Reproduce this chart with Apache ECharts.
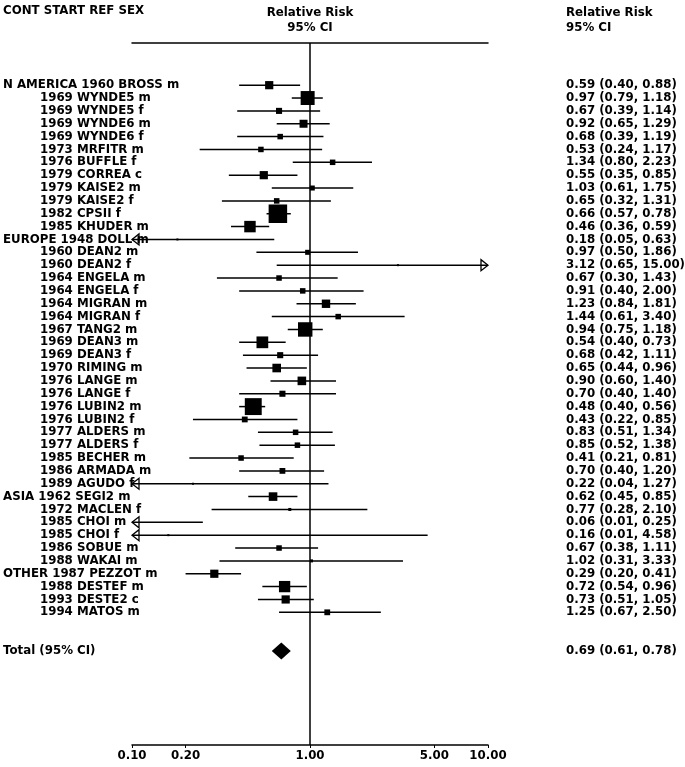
<!DOCTYPE html>
<html><head><meta charset="utf-8">
<script src="https://cdn.jsdelivr.net/npm/echarts@6/dist/echarts.min.js"></script>
<style>html,body{margin:0;padding:0;background:#fff}#c{width:685px;height:767px}</style>
</head><body><div id="c"></div>
<script>
// ---------------- data ----------------
const continents = ['N AMERICA','','','','','','','','','','','',
  'EUROPE','','','','','','','','','','','','','','','','','','','',
  'ASIA','','','','','',
  'OTHER','','',''];
const startYears = [1960,1969,1969,1969,1969,1973,1976,1979,1979,1979,1982,1985,
  1948,1960,1960,1964,1964,1964,1964,1967,1969,1969,1970,1976,1976,1976,1976,1977,1977,1985,1986,1989,
  1962,1972,1985,1985,1986,1988,
  1987,1988,1993,1994];
const refs = ['BROSS','WYNDE5','WYNDE5','WYNDE6','WYNDE6','MRFITR','BUFFLE','CORREA','KAISE2','KAISE2','CPSII','KHUDER',
  'DOLL','DEAN2','DEAN2','ENGELA','ENGELA','MIGRAN','MIGRAN','TANG2','DEAN3','DEAN3','RIMING','LANGE','LANGE','LUBIN2','LUBIN2','ALDERS','ALDERS','BECHER','ARMADA','AGUDO',
  'SEGI2','MACLEN','CHOI','CHOI','SOBUE','WAKAI',
  'PEZZOT','DESTEF','DESTE2','MATOS'];
const sexes = ['m','m','f','m','f','m','f','c','m','f','f','m',
  'm','m','f','m','f','m','f','m','m','f','m','m','f','m','f','m','f','m','m','f',
  'm','f','m','f','m','m',
  'm','m','c','m'];
const rr = [0.59,0.97,0.67,0.92,0.68,0.53,1.34,0.55,1.03,0.65,0.66,0.46,
  0.18,0.97,3.12,0.67,0.91,1.23,1.44,0.94,0.54,0.68,0.65,0.90,0.70,0.48,0.43,0.83,0.85,0.41,0.70,0.22,
  0.62,0.77,0.06,0.16,0.67,1.02,
  0.29,0.72,0.73,1.25];
const ciLow = [0.40,0.79,0.39,0.65,0.39,0.24,0.80,0.35,0.61,0.32,0.57,0.36,
  0.05,0.50,0.65,0.30,0.40,0.84,0.61,0.75,0.40,0.42,0.44,0.60,0.40,0.40,0.22,0.51,0.52,0.21,0.40,0.04,
  0.45,0.28,0.01,0.01,0.38,0.31,
  0.20,0.54,0.51,0.67];
const ciHigh = [0.88,1.18,1.14,1.29,1.19,1.17,2.23,0.85,1.75,1.31,0.78,0.59,
  0.63,1.86,15.00,1.43,2.00,1.81,3.40,1.18,0.73,1.11,0.96,1.40,1.40,0.56,0.85,1.34,1.38,0.81,1.20,1.27,
  0.85,2.10,0.25,4.58,1.11,3.33,
  0.41,0.96,1.05,2.50];
// relative study weights (%), shown as square area
const weights = [2.0,5.8,1.1,1.9,0.9,0.9,0.9,2.0,0.75,0.9,10.2,3.9,
  0.12,0.75,0.12,0.9,0.9,2.1,0.9,6.2,4.1,1.1,2.2,2.2,1.1,8.5,1.0,0.9,0.9,0.9,1.0,0.12,
  2.2,0.27,0.1,0.12,0.9,0.27,
  2.0,3.8,2.0,1.0];
const totalLabel = 'Total (95% CI)';
const totalRR = 0.69, totalLow = 0.61, totalHigh = 0.78;
const xTickValues = [0.1, 0.2, 1, 5, 10];

// ---------------- layout / style ----------------
const FONT = 'DejaVu Sans';
const FS = 11.8;
const XMIN = 0.1, XMAX = 10;
const TOTAL_ROW = rr.length + 2;
const rowIdx = rr.map((_, i) => i);
const labelRows = rowIdx.concat([TOTAL_ROW]);
const f2 = v => v.toFixed(2);

const leftText = i => {
  if (i === TOTAL_ROW) return '{g|' + totalLabel + '}';
  const s = startYears[i] + ' ' + refs[i] + ' ' + sexes[i];
  return continents[i] ? '{g|' + continents[i] + ' ' + s + '}' : '{s|' + s + '}';
};
const rightText = i => {
  if (i === TOTAL_ROW) return f2(totalRR) + ' (' + f2(totalLow) + ', ' + f2(totalHigh) + ')';
  return f2(rr[i]) + ' (' + f2(ciLow[i]) + ', ' + f2(ciHigh[i]) + ')';
};
const txt = {fontFamily: FONT, fontSize: FS, fontWeight: 'bold', color: '#000'};

const Y_MIN = -3.28, Y_MAX = 51.32;

const chart = echarts.init(document.getElementById('c'), null, {renderer: 'canvas'});
chart.setOption({
  animation: false,
  backgroundColor: '#fff',
  title: [
    {text: 'CONT START REF SEX', left: 3, top: 5, padding: 0, textStyle: Object.assign({}, txt)},
    {text: 'Relative Risk\n95% CI', left: 310, top: 5, padding: 0, textAlign: 'center',
     textStyle: Object.assign({lineHeight: 15}, txt)},
    {text: 'Relative Risk\n95% CI', left: 566, top: 5, padding: 0, textAlign: 'left',
     textStyle: Object.assign({lineHeight: 15}, txt)}
  ],
  grid: {left: 132, right: 197, top: 43, bottom: 22, containLabel: false, outerBoundsMode: 'none'},
  xAxis: [
    {type: 'log', logBase: 10, min: XMIN, max: XMAX, position: 'bottom',
     axisLine: {show: true, onZero: false, lineStyle: {color: '#000', width: 1.5}},
     axisTick: {show: true, length: 3, lineStyle: {color: '#000', width: 1}, customValues: xTickValues},
     axisLabel: Object.assign({margin: 5, customValues: xTickValues, formatter: v => f2(v)}, txt),
     splitLine: {show: false}, minorTick: {show: false}},
    {type: 'log', logBase: 10, min: XMIN, max: XMAX, position: 'top',
     axisLine: {show: true, onZero: false, lineStyle: {color: '#000', width: 1.5}},
     axisTick: {show: false}, axisLabel: {show: false}, splitLine: {show: false}}
  ],
  yAxis: [
    {type: 'value', inverse: true, min: Y_MIN, max: Y_MAX, position: 'left',
     axisLine: {show: false, onZero: false}, axisTick: {show: false}, splitLine: {show: false},
     axisLabel: {show: true, margin: 129, align: 'left', customValues: labelRows,
       formatter: v => leftText(Math.round(v)),
       rich: {g: Object.assign({}, txt), s: Object.assign({padding: [0, 0, 0, 37]}, txt)}}},
    {type: 'value', inverse: true, min: Y_MIN, max: Y_MAX, position: 'right',
     axisLine: {show: false, onZero: false}, axisTick: {show: false}, splitLine: {show: false},
     axisLabel: Object.assign({show: true, margin: 78, align: 'left', customValues: labelRows,
       formatter: v => rightText(Math.round(v))}, txt)}
  ],
  series: [
    {
      type: 'custom', name: 'ci', xAxisIndex: 0, yAxisIndex: 0,
      data: rowIdx.map(i => [ciLow[i], ciHigh[i], i]),
      encode: {x: [0, 1], y: 2},
      renderItem: (params, api) => {
        const l = api.value(0), h = api.value(1), y = api.value(2);
        const p1 = api.coord([Math.max(l, XMIN), y]);
        const p2 = api.coord([Math.min(h, XMAX), y]);
        const kids = [{type: 'line', shape: {x1: p1[0], y1: p1[1], x2: p2[0], y2: p2[1]},
          style: {stroke: '#000', lineWidth: 1.5}}];
        if (l < XMIN) kids.push({type: 'polygon',
          shape: {points: [[p1[0], p1[1]], [p1[0] + 7, p1[1] - 5.5], [p1[0] + 7, p1[1] + 5.5]]},
          style: {fill: 'none', stroke: '#000', lineWidth: 1.3}});
        if (h > XMAX) kids.push({type: 'polygon',
          shape: {points: [[p2[0], p2[1]], [p2[0] - 7, p2[1] - 5.5], [p2[0] - 7, p2[1] + 5.5]]},
          style: {fill: 'none', stroke: '#000', lineWidth: 1.3}});
        return {type: 'group', children: kids};
      },
      z: 2
    },
    {
      type: 'scatter', name: 'rr', xAxisIndex: 0, yAxisIndex: 0, clip: true,
      symbol: 'rect',
      symbolSize: (val, p) => 5.8 * Math.sqrt(weights[p.dataIndex]),
      itemStyle: {color: '#000', opacity: 1},
      data: rowIdx.map(i => [rr[i], i]),
      z: 3,
      markLine: {silent: true, symbol: ['none', 'none'], label: {show: false},
        lineStyle: {color: '#000', width: 1.5, type: 'solid'},
        data: [{xAxis: 1}]}
    },
    {
      type: 'custom', name: 'total', xAxisIndex: 0, yAxisIndex: 0,
      data: [[totalLow, totalHigh, totalRR, TOTAL_ROW]],
      encode: {x: [0, 1, 2], y: 3},
      renderItem: (params, api) => {
        const y = api.value(3);
        const a = api.coord([api.value(0), y]);
        const b = api.coord([api.value(1), y]);
        const c = api.coord([api.value(2), y]);
        return {type: 'polygon',
          shape: {points: [[a[0], a[1]], [c[0], c[1] - 8.5], [b[0], b[1]], [c[0], c[1] + 8.5]]},
          style: {fill: '#000'}};
      },
      z: 3
    }
  ]
});
</script>
</body></html>
